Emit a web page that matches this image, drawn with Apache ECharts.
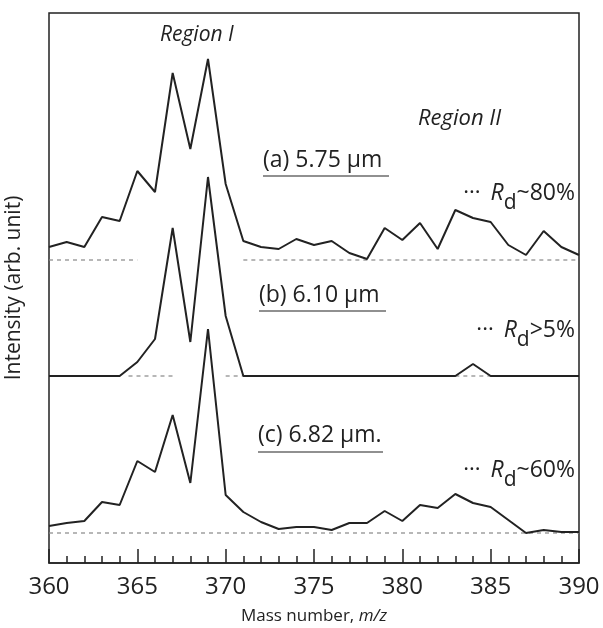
<!DOCTYPE html>
<html>
<head>
<meta charset="utf-8">
<script src="https://cdn.jsdelivr.net/npm/echarts@6/dist/echarts.min.js"></script>
<style>
  html, body { margin: 0; padding: 0; background: #fff; }
  #chart { width: 603px; height: 628px; }
</style>
</head>
<body>
<div id="chart"></div>
<script>
(function () {

    // mass numbers (m/z)
    var mass = [360, 361, 362, 363, 364, 365, 366, 367, 368, 369, 370,
                371, 372, 373, 374, 375, 376, 377, 378, 379, 380,
                381, 382, 383, 384, 385, 386, 387, 388, 389, 390];

    // traces, already offset (arb. units)
    var traceA = [316, 321, 316, 346, 342, 392, 371, 490, 414, 504, 379,
                  322, 316, 314, 324, 318, 322, 310, 304, 335, 323,
                  340, 314, 353, 345, 341, 318, 308, 332, 316, 308];
    var traceB = [187, 187, 187, 187, 187, 201, 224, 335, 221, 386, 247,
                  187, 187, 187, 187, 187, 187, 187, 187, 187, 187,
                  187, 187, 187, 199, 187, 187, 187, 187, 187, 187];
    var traceC = [37, 40, 42, 61, 58, 102, 91, 148, 80, 234, 68,
                  51, 41, 34, 36, 36, 33, 40, 40, 52, 42,
                  58, 55, 69, 60, 56, 43, 30, 33, 31, 31];

    // baselines and the m/z stretches where they are drawn
    var baseA = 303, baseB = 187, baseC = 30;
    var segA = [[360, 365], [371, 390]];
    var segB = [[364.5, 367], [370, 371], [383, 385]];
    var segC = [[360, 390]];

    var xTicks = [360, 365, 370, 375, 380, 385, 390];

    var FONT = '"Open Sans", "Noto Sans", sans-serif';
    var INK = '#222';

    var myChart = echarts.init(document.getElementById('chart'));

    function pairs(ys) {
        var out = [];
        for (var i = 0; i < mass.length; i++) {
            out.push([mass[i], ys[i]]);
        }
        return out;
    }

    var series = [];
    function addBase(segs, level) {
        for (var i = 0; i < segs.length; i++) {
            series.push({
                type: 'line',
                symbol: 'none',
                silent: true,
                z: 1,
                lineStyle: { color: '#888', width: 1.2, type: [4, 4] },
                data: [[segs[i][0], level], [segs[i][1], level]]
            });
        }
    }
    addBase(segA, baseA);
    addBase(segB, baseB);
    addBase(segC, baseC);

    [traceA, traceB, traceC].forEach(function (t) {
        series.push({
            type: 'line',
            symbol: 'none',
            z: 3,
            lineStyle: { color: INK, width: 2 },
            data: pairs(t)
        });
    });

    function rdLabel(right, y, tail) {
        return {
            type: 'text',
            right: 603 - right,
            top: y,
            style: {
                text: '{dots|\u00b7\u00b7\u00b7}   {r|R}{d|d}{t|' + tail + '}',
                rich: {
                    dots: { fontSize: 22, lineHeight: 32, verticalAlign: 'top', fontFamily: FONT, fill: INK },
                    r: { fontSize: 23, fontStyle: 'italic', lineHeight: 32, verticalAlign: 'top', fontFamily: FONT, fill: INK },
                    d: { fontSize: 21, lineHeight: 32, verticalAlign: 'bottom', fontFamily: FONT, fill: INK },
                    t: { fontSize: 23, lineHeight: 32, verticalAlign: 'top', fontFamily: FONT, fill: INK }
                }
            }
        };
    }

    function sampleLabel(x, y, txt, x2, yu) {
        return [{
            type: 'text',
            left: x,
            top: y,
            style: { text: txt, font: '23px ' + FONT, fill: INK }
        }, {
            type: 'line',
            shape: { x1: x, y1: yu, x2: x2, y2: yu },
            style: { stroke: INK, lineWidth: 1.2 }
        }];
    }

    var graphics = [
        { type: 'text', left: 160, top: 25, style: { text: 'Region I', font: 'italic 21px ' + FONT, fill: INK } },
        { type: 'text', left: 418, top: 108, style: { text: 'Region II', font: 'italic 22px ' + FONT, fill: INK } },
        rdLabel(575, 182, '~80%'),
        rdLabel(575, 319, '>5%'),
        rdLabel(575, 459, '~60%')
    ];
    graphics = graphics
        .concat(sampleLabel(263, 149, '(a) 5.75 \u03bcm', 389, 176))
        .concat(sampleLabel(259, 284, '(b) 6.10 \u03bcm', 386, 311))
        .concat(sampleLabel(258, 424, '(c) 6.82 \u03bcm.', 383, 452));

    var option = {
        animation: false,
        backgroundColor: '#fff',
        grid: {
            left: 49, right: 24, top: 13, bottom: 65,
            outerBoundsMode: 'none',
            show: true,
            borderColor: INK,
            borderWidth: 1.5
        },
        xAxis: {
            type: 'value',
            min: 360,
            max: 390,
            interval: 5,
            name: '{n|Mass number, }{i|m/z}',
            nameLocation: 'middle',
            nameGap: 45,
            nameTextStyle: {
                rich: {
                    n: { fontSize: 17, fontFamily: FONT, color: INK },
                    i: { fontSize: 17, fontFamily: FONT, color: INK, fontStyle: 'italic' }
                }
            },
            axisLine: { show: true, lineStyle: { color: INK, width: 1.5 } },
            axisTick: { show: true, inside: true, length: 14, lineStyle: { color: INK, width: 1.5 } },
            minorTick: { show: true, splitNumber: 5, length: 7, lineStyle: { color: INK, width: 1.5 } },
            axisLabel: {
                fontSize: 24,
                fontFamily: FONT,
                color: INK,
                margin: 12,
                formatter: function (v) {
                    return xTicks.indexOf(v) >= 0 ? String(v) : '';
                }
            },
            splitLine: { show: false }
        },
        yAxis: {
            type: 'value',
            min: 0,
            max: 550,
            name: 'Intensity (arb. unit)',
            nameLocation: 'middle',
            nameGap: 24,
            nameTextStyle: { fontSize: 21, fontFamily: FONT, color: INK },
            axisLine: { show: false },
            axisTick: { show: false },
            axisLabel: { show: false },
            splitLine: { show: false }
        },
        graphic: graphics,
        series: series
    };

    myChart.setOption(option);

}());
</script>
</body>
</html>
